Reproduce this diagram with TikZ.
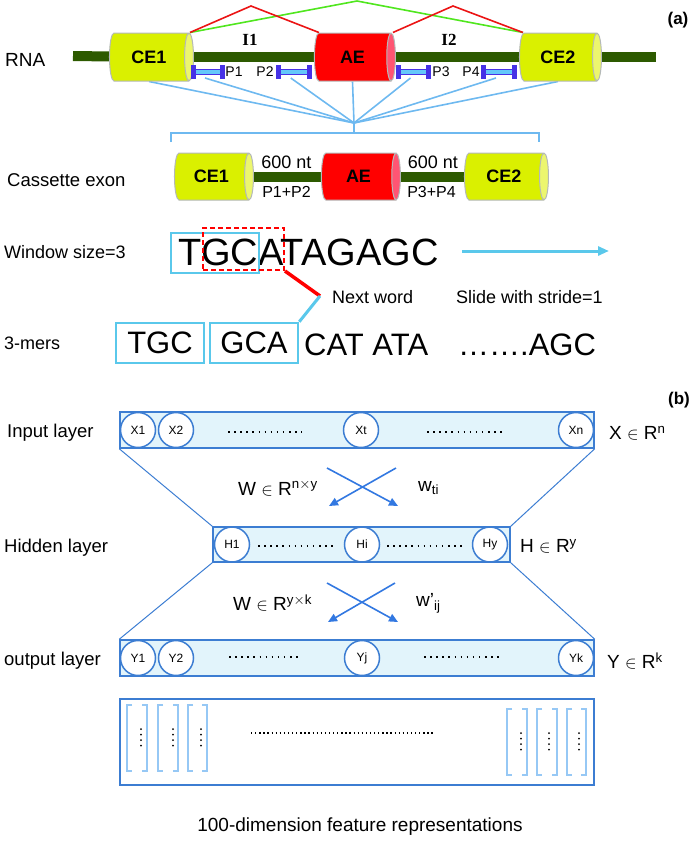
\documentclass[tikz,border=0pt]{standalone}
\usepackage{fontspec}
\setmainfont{Liberation Sans}
\newfontfamily\serifbf{Liberation Serif}
\usetikzlibrary{positioning,arrows.meta,shapes.geometric,backgrounds}
\definecolor{ceyellow}{RGB}{218,240,0}
\definecolor{cecap}{RGB}{236,246,110}
\definecolor{aered}{RGB}{255,0,0}
\definecolor{aecap}{RGB}{255,85,115}
\definecolor{cylgray}{RGB}{180,185,185}
\definecolor{introngreen}{RGB}{45,90,0}
\definecolor{primerviolet}{RGB}{70,50,230}
\definecolor{primerblue}{RGB}{100,200,250}
\definecolor{fanblue}{RGB}{110,185,240}
\definecolor{splicered}{RGB}{235,20,20}
\definecolor{splicegreen}{RGB}{80,230,30}
\definecolor{winblue}{RGB}{90,200,235}
\definecolor{layerblue}{RGB}{60,125,210}
\definecolor{layerfill}{RGB}{226,244,251}
\definecolor{arrowblue}{RGB}{50,120,225}
\definecolor{bracketblue}{RGB}{150,200,245}
\newcommand{\fsz}[1]{\fontsize{#1}{#1}\selectfont}
\newcommand{\brk}[5]{% x1, x2, ytop, ybot, dots x
  \draw[bracket] (#1+5,#3) -- (#1,#3) -- (#1,#4) -- (#1+5,#4);
  \draw[bracket] (#2-5,#3) -- (#2,#3) -- (#2,#4) -- (#2-5,#4);
  \foreach \k in {0,...,3} \fill (#5,#3+24+\k*5.5) circle (1pt);
}

\begin{document}
\begin{tikzpicture}[x=1pt,y=-1pt,
  cyl/.style={cylinder,draw=cylgray,line width=1pt,cylinder uses custom fill,aspect=0.7,
    minimum width=48pt,inner sep=0pt,font=\bfseries\fsz{18}},
  cecyl/.style={cyl,cylinder body fill=ceyellow,cylinder end fill=cecap},
  aecyl/.style={cyl,cylinder body fill=aered,cylinder end fill=aecap},
  intron/.style={line width=10pt,draw=introngreen},
  splice/.style={line width=1.6pt},
  primer/.style={draw=primerviolet,fill=primerblue,line width=1.6pt,minimum height=5pt,inner sep=0pt},
  ptick/.style={draw=primerviolet,line width=5pt},
  fan/.style={draw=fanblue,line width=1.6pt},
  lbl/.style={anchor=west,font=\fsz{18.5},inner sep=0pt},
  small/.style={font=\fsz{14},inner sep=0pt},
  winbox/.style={draw=winblue,line width=2.5pt,minimum width=88pt,minimum height=40pt,inner sep=0pt},
  layer/.style={draw=layerblue,fill=layerfill,line width=1.5pt,minimum height=36pt,inner sep=0pt},
  unit/.style={circle,draw=layerblue,fill=white,line width=1.5pt,minimum size=35pt,inner sep=0pt,font=\fsz{12}},
  dots/.style={line width=1.5pt,dash pattern=on 1.5pt off 4.6pt},
  link/.style={draw=layerblue,line width=1pt},
  weight/.style={draw=arrowblue,line width=1.6pt,-{Triangle[length=9pt,width=8pt]}},
  bracket/.style={draw=bracketblue,line width=1.3pt}
]
\useasboundingbox (0,0) rectangle (697,844);

% (a) RNA
\node[lbl,font=\fsz{19}] (rna) at (5,60) {RNA};
\node[font=\bfseries\fsz{17}] (taga) at (678,20) {(a)};
\node[cecyl,minimum height=84pt] (ce1) at (149,57) {CE1};
\node[aecyl,minimum height=81pt] (ae) at (352.5,57) {AE};
\node[cecyl,minimum height=82pt] (ce2) at (558,57) {CE2};
\coordinate (rnaL) at (73,56);
\coordinate (rnaR) at (656,57);
\begin{scope}[on background layer]
  \draw[intron] (rnaL) -- (ce1.center);
  \draw[intron] (ce1.center) -- (ae.center);
  \draw[intron] (ae.center) -- (ce2.center);
  \draw[intron] (ce2.center) -- (rnaR);
\end{scope}
\node[font=\serifbf\bfseries\fsz{17}] (i1) at (250,40) {I1};
\node[font=\serifbf\bfseries\fsz{17}] (i2) at (449,40) {I2};
% splicing
\coordinate (pk1) at (251,6);
\coordinate (pk2) at (453,6);
\coordinate (pk3) at (357,1);
\coordinate (ce1tr) at ([xshift=-4pt]ce1.north -| ce1.east);
\coordinate (aetl) at ([xshift=5pt]ae.north -| ae.west);
\coordinate (aetr) at ([xshift=-3pt]ae.north -| ae.east);
\coordinate (ce2tl) at ([xshift=4pt]ce2.north -| ce2.west);
\draw[splice,splicegreen] (ce1tr) -- (pk3) -- (ce2tl);
\draw[splice,splicered] (ce1tr) -- (pk1) -- (aetl);
\draw[splice,splicered] (aetr) -- (pk2) -- (ce2tl);
% primers
\coordinate (fan) at (354,123);
\foreach \nm/\cx/\w/\lx/\tx in {p1/208/27/234/P1, p2/293.75/29.5/265/P2, p3/413.5/28/441/P3, p4/499/29/471/P4}{
  \draw[fan] (\cx-3,78) -- (fan);
  \node[primer,minimum width=\w pt] (\nm) at (\cx,72) {};
  \draw[ptick] ([yshift=-7pt]\nm.west) -- ([yshift=7pt]\nm.west);
  \draw[ptick] ([yshift=-7pt]\nm.east) -- ([yshift=7pt]\nm.east);
  \node[small] (\nm t) at (\lx,72) {\tx};
}
\begin{scope}[on background layer]
  \draw[fan] (ce1.south) -- (fan);
  \draw[fan] (ae.south) -- (fan);
  \draw[fan] (ce2.south) -- (fan);
\end{scope}
\coordinate (braceL) at (171,142);
\coordinate (braceR) at (539,142);
\draw[fan] (fan) -- (354,133);
\draw[fan] (braceL) |- (braceR |- 0,133) -- (braceR);

% cassette exon
\node[lbl] (cas) at (7,180) {Cassette exon};
\node[cecyl,minimum height=79pt,minimum width=47pt] (cce1) at (211.5,176.5) {CE1};
\node[aecyl,minimum height=79pt,minimum width=47pt] (cae) at (358.5,176.5) {AE};
\node[cecyl,minimum height=84pt,minimum width=47pt] (cce2) at (504,176.5) {CE2};
\begin{scope}[on background layer]
  \draw[intron] (cce1.center) -- (cae.center);
  \draw[intron] (cae.center) -- (cce2.center);
\end{scope}
\node[font=\fsz{18}] (nt1) at (286.5,162) {600 nt};
\node[font=\fsz{18}] (nt2) at (433,162) {600 nt};
\node[font=\fsz{16}] (pp1) at (286.5,192) {P1+P2};
\node[font=\fsz{16}] (pp2) at (431.5,192) {P3+P4};

% window
\node[lbl,font=\fsz{18}] (winl) at (4,252) {Window size=3};
\node[anchor=base west,font=\fsz{38},inner sep=0pt] (seq) at (178,265) {TGCATAGAGC};
\node[winbox] (tgcwin) at (215,253) {};
\node[draw=red,line width=2pt,dash pattern=on 5pt off 3pt,minimum width=81pt,minimum height=42pt,inner sep=0pt] (gcawin) at (243.5,249) {};
\coordinate (bend) at (320,296);
\coordinate (slideA) at (462,251);
\coordinate (slideB) at (609,251);
\draw[winblue,line width=3pt,-{Triangle[length=11pt,width=9pt]}] (slideA) -- (slideB);
\node[lbl,font=\fsz{18}] (next) at (332,297) {Next word};
\node[lbl,font=\fsz{18}] (stride) at (456,297) {Slide with stride=1};

% 3-mers
\node[lbl,font=\fsz{18}] (mers) at (4,343) {3-mers};
\node[winbox,font=\fsz{31}] (tgc) at (160,343) {TGC};
\node[winbox,font=\fsz{31}] (gca) at (254,343) {GCA};
\node[anchor=base west,font=\fsz{31},inner sep=0pt] (cat) at (304,355) {CAT ATA};
\node[anchor=base west,font=\fsz{31},inner sep=0pt] (agc) at (458,355) {…….AGC};
\draw[red,line width=3.5pt] (gcawin.south east) -- (bend);
\draw[winblue,line width=3pt] (bend) -- (gca.north east);

% (b) network
\node[font=\bfseries\fsz{17}] (tagb) at (679,400) {(b)};
\node[lbl] (inl) at (7,433) {Input layer};
\node[lbl] (hidl) at (4,548) {Hidden layer};
\node[lbl] (outl) at (4,661) {output layer};
\node[layer,minimum width=474pt] (inbox) at (357,430) {};
\node[layer,minimum width=297pt,minimum height=35pt] (hidbox) at (361.5,544.5) {};
\node[layer,minimum width=474pt] (outbox) at (357,658) {};
\draw[link] (inbox.south west) -- (hidbox.north west);
\draw[link] (inbox.south east) -- (hidbox.north east);
\draw[link] (hidbox.south west) -- (outbox.north west);
\draw[link] (hidbox.south east) -- (outbox.north east);
\foreach \nm/\cx/\tx in {x1/138/X1, x2/176/X2, xt/361/Xt, xn/576/Xn}
  \node[unit] (\nm) at (\cx,430) {\tx};
\foreach \nm/\cx/\tx in {h1/232/H1, hi/362/Hi, hy/490/Hy}
  \node[unit] (\nm) at (\cx,544.5) {\tx};
\foreach \nm/\cx/\tx in {y1/138/Y1, y2/176/Y2, yj/362/Yj, yk/576/Yk}
  \node[unit] (\nm) at (\cx,658) {\tx};
\draw[dots] (228,432) -- (302,432);
\draw[dots] (427,432) -- (502,432);
\draw[dots] (258,546) -- (333,546);
\draw[dots] (387,546) -- (462,546);
\draw[dots] (229,657) -- (302,657);
\draw[dots] (424,657) -- (500,657);
\node[lbl,font=\fsz{19}] (xr) at (609,433) {X $\in$ R\textsuperscript{n}};
\node[lbl,font=\fsz{19}] (hr) at (520,546) {H $\in$ R\textsuperscript{y}};
\node[lbl,font=\fsz{19}] (yr) at (607,661) {Y $\in$ R\textsuperscript{k}};
% weights
\coordinate (wa1) at (327,468); \coordinate (wb1) at (398,506);
\coordinate (wa2) at (396,468); \coordinate (wb2) at (329,506);
\coordinate (wa3) at (327,583); \coordinate (wb3) at (398,622);
\coordinate (wa4) at (395,583); \coordinate (wb4) at (328,622);
\draw[weight] (wa1) -- (wb1);
\draw[weight] (wa2) -- (wb2);
\draw[weight] (wa3) -- (wb3);
\draw[weight] (wa4) -- (wb4);
\node[lbl,font=\fsz{19}] (w1) at (238,488) {W $\in$ R\textsuperscript{n$\times$y}};
\node[lbl,font=\fsz{19}] (wt) at (418,488) {w\textsubscript{ti}};
\node[lbl,font=\fsz{19}] (w2) at (233,603) {W $\in$ R\textsuperscript{y$\times$k}};
\node[lbl,font=\fsz{19}] (wij) at (416,603) {w'\textsubscript{ij}};

% feature representations
\node[draw=layerblue,fill=white,line width=1.5pt,minimum width=474pt,minimum height=86pt,inner sep=0pt] (feat) at (357,742) {};
\brk{127}{147}{705}{771}{141}
\brk{158}{178}{705}{771}{173}
\brk{188}{207}{705}{771}{201}
\brk{507}{527}{709}{775}{521}
\brk{537}{557}{709}{775}{549}
\brk{567}{586}{709}{775}{579}
\draw[line width=1.3pt,dash pattern=on 1.3pt off 2.8pt] (251,733) -- (433,733);
\node[font=\fsz{19}] (cap) at (360,827) {100-dimension feature representations};
\end{tikzpicture}
\end{document}
